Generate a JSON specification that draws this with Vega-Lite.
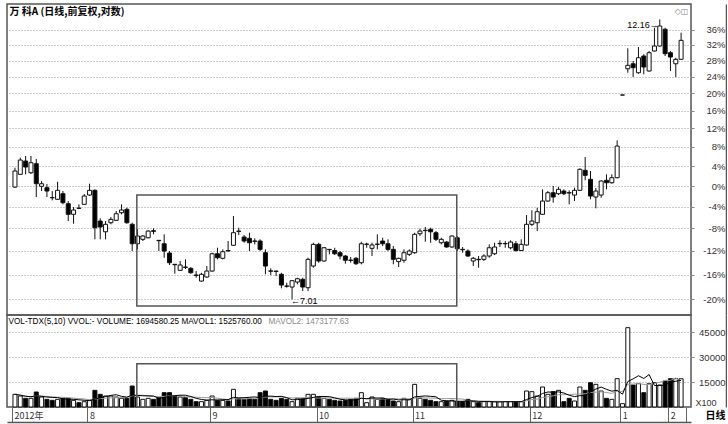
{
  "$schema": "https://vega.github.io/schema/vega-lite/v6.json",
  "padding": {"left": 6, "top": 3, "right": 0, "bottom": 2},
  "background": "#ffffff",
  "spacing": 0,
  "bounds": "flush",
  "config": {
    "view": {"stroke": "#555", "strokeWidth": 1.5},
    "font": "Liberation Sans",
    "axis": {"labelFont": "Liberation Sans", "titleFont": "Liberation Sans", "gridDash": [1, 2], "gridColor": "#999", "gridWidth": 1}
  },
  "datasets": {
    "k": [
      {"i":0,"o":99.8,"h":103.67,"l":99.61,"c":103.0,"v":7600},
      {"i":1,"o":102.33,"h":105.73,"l":102.19,"c":105.25,"v":6600},
      {"i":2,"o":105.04,"h":106.09,"l":102.33,"c":103.81,"v":5200},
      {"i":3,"o":102.65,"h":106.09,"l":102.39,"c":104.7,"v":5200},
      {"i":4,"o":104.49,"h":105.46,"l":97.86,"c":100.45,"v":9000},
      {"i":5,"o":99.94,"h":100.99,"l":99.02,"c":100.45,"v":6000},
      {"i":6,"o":99.67,"h":100.39,"l":97.86,"c":99.02,"v":4600},
      {"i":7,"o":97.75,"h":99.02,"l":97.22,"c":97.72,"v":4000},
      {"i":8,"o":97.42,"h":100.85,"l":97.28,"c":99.16,"v":4600},
      {"i":9,"o":98.5,"h":99.02,"l":96.46,"c":96.77,"v":5200},
      {"i":10,"o":96.58,"h":97.09,"l":93.34,"c":94.58,"v":5200},
      {"i":11,"o":94.58,"h":95.95,"l":92.85,"c":95.39,"v":4000},
      {"i":12,"o":95.74,"h":96.46,"l":95.57,"c":95.71,"v":2600},
      {"i":13,"o":96.46,"h":98.44,"l":96.33,"c":98.05,"v":3200},
      {"i":14,"o":98.24,"h":100.45,"l":98.05,"c":99.16,"v":4000},
      {"i":15,"o":99.16,"h":99.35,"l":90.04,"c":92.12,"v":10000},
      {"i":16,"o":93.34,"h":93.84,"l":90.04,"c":92.25,"v":7600},
      {"i":17,"o":91.39,"h":93.34,"l":90.04,"c":92.74,"v":6600},
      {"i":18,"o":93.03,"h":94.08,"l":92.74,"c":93.65,"v":6600},
      {"i":19,"o":93.47,"h":95.2,"l":93.34,"c":94.69,"v":6000},
      {"i":20,"o":94.88,"h":96.46,"l":94.58,"c":95.39,"v":5200},
      {"i":21,"o":95.52,"h":95.82,"l":92.85,"c":93.03,"v":5200},
      {"i":22,"o":92.74,"h":93.03,"l":87.99,"c":89.26,"v":12600},
      {"i":23,"o":89.26,"h":91.89,"l":88.28,"c":90.63,"v":6000},
      {"i":24,"o":90.04,"h":90.8,"l":89.74,"c":90.63,"v":4600},
      {"i":25,"o":90.32,"h":91.65,"l":90.22,"c":91.52,"v":5200},
      {"i":26,"o":91.58,"h":92.01,"l":90.93,"c":91.47,"v":4600},
      {"i":27,"o":89.86,"h":89.9,"l":87.99,"c":89.8,"v":5600},
      {"i":28,"o":89.26,"h":90.93,"l":86.84,"c":87.99,"v":8600},
      {"i":29,"o":87.64,"h":87.99,"l":85.6,"c":85.99,"v":8600},
      {"i":30,"o":85.72,"h":85.75,"l":84.15,"c":85.65,"v":6600},
      {"i":31,"o":84.71,"h":86.28,"l":84.59,"c":85.6,"v":6000},
      {"i":32,"o":85.26,"h":86.56,"l":84.93,"c":85.2,"v":5600},
      {"i":33,"o":85.04,"h":85.26,"l":84.15,"c":84.31,"v":4600},
      {"i":34,"o":83.93,"h":84.59,"l":83.48,"c":83.87,"v":3200},
      {"i":35,"o":82.94,"h":84.3,"l":82.83,"c":84.05,"v":3200},
      {"i":36,"o":83.6,"h":85.43,"l":83.48,"c":84.59,"v":4000},
      {"i":37,"o":84.59,"h":87.7,"l":84.48,"c":87.52,"v":6600},
      {"i":38,"o":87.52,"h":88.56,"l":86.56,"c":86.84,"v":4000},
      {"i":39,"o":86.74,"h":88.28,"l":86.56,"c":87.87,"v":4000},
      {"i":40,"o":88.08,"h":89.74,"l":87.87,"c":88.0,"v":3600},
      {"i":41,"o":88.99,"h":94.27,"l":88.86,"c":91.22,"v":10600},
      {"i":42,"o":91.52,"h":92.12,"l":90.8,"c":91.45,"v":5200},
      {"i":43,"o":90.45,"h":90.8,"l":89.44,"c":89.74,"v":4600},
      {"i":44,"o":90.22,"h":91.22,"l":87.99,"c":89.44,"v":5200},
      {"i":45,"o":89.74,"h":90.22,"l":89.15,"c":89.7,"v":4600},
      {"i":46,"o":89.74,"h":90.04,"l":87.99,"c":88.28,"v":8600},
      {"i":47,"o":87.7,"h":88.28,"l":84.05,"c":85.43,"v":9600},
      {"i":48,"o":84.62,"h":85.04,"l":83.93,"c":84.56,"v":4600},
      {"i":49,"o":84.59,"h":84.62,"l":83.76,"c":84.53,"v":4000},
      {"i":50,"o":84.05,"h":84.31,"l":81.76,"c":82.29,"v":5200},
      {"i":51,"o":82.13,"h":82.66,"l":81.86,"c":82.1,"v":4600},
      {"i":52,"o":81.97,"h":83.06,"l":80.0,"c":83.0,"v":3200},
      {"i":53,"o":82.78,"h":83.48,"l":82.41,"c":83.32,"v":5200},
      {"i":54,"o":83.22,"h":83.48,"l":81.32,"c":81.97,"v":5200},
      {"i":55,"o":81.86,"h":86.84,"l":81.32,"c":86.56,"v":7600},
      {"i":56,"o":85.43,"h":89.44,"l":85.15,"c":89.15,"v":7600},
      {"i":57,"o":89.15,"h":89.44,"l":85.99,"c":86.28,"v":6000},
      {"i":58,"o":86.28,"h":88.69,"l":86.17,"c":88.56,"v":5200},
      {"i":59,"o":88.28,"h":88.31,"l":87.42,"c":88.22,"v":4600},
      {"i":60,"o":88.08,"h":88.56,"l":87.3,"c":87.52,"v":4000},
      {"i":61,"o":87.7,"h":87.99,"l":86.56,"c":87.13,"v":3600},
      {"i":62,"o":87.13,"h":87.3,"l":85.82,"c":86.41,"v":4000},
      {"i":63,"o":86.44,"h":86.97,"l":85.99,"c":86.38,"v":4600},
      {"i":64,"o":86.74,"h":86.97,"l":85.6,"c":85.82,"v":5200},
      {"i":65,"o":85.99,"h":89.62,"l":85.72,"c":89.26,"v":8600},
      {"i":66,"o":89.15,"h":89.44,"l":88.56,"c":89.2,"v":2600},
      {"i":67,"o":88.46,"h":89.44,"l":87.13,"c":89.04,"v":6000},
      {"i":68,"o":89.15,"h":90.93,"l":88.28,"c":89.2,"v":4600},
      {"i":69,"o":89.74,"h":90.32,"l":88.86,"c":89.26,"v":5200},
      {"i":70,"o":89.26,"h":90.04,"l":87.99,"c":88.28,"v":4600},
      {"i":71,"o":88.28,"h":88.86,"l":85.72,"c":86.56,"v":3600},
      {"i":72,"o":86.17,"h":86.84,"l":85.26,"c":86.74,"v":3200},
      {"i":73,"o":86.41,"h":88.28,"l":85.99,"c":87.7,"v":5200},
      {"i":74,"o":87.42,"h":88.28,"l":87.13,"c":87.99,"v":4600},
      {"i":75,"o":87.7,"h":91.22,"l":87.52,"c":90.93,"v":13600},
      {"i":76,"o":91.04,"h":91.95,"l":90.63,"c":91.52,"v":5200},
      {"i":77,"o":91.65,"h":92.25,"l":89.62,"c":91.6,"v":4600},
      {"i":78,"o":91.83,"h":92.12,"l":89.44,"c":91.39,"v":4000},
      {"i":79,"o":91.22,"h":91.52,"l":89.74,"c":90.04,"v":3200},
      {"i":80,"o":89.44,"h":90.32,"l":89.15,"c":90.04,"v":3200},
      {"i":81,"o":89.56,"h":89.74,"l":88.56,"c":88.69,"v":3600},
      {"i":82,"o":88.69,"h":90.75,"l":88.56,"c":90.63,"v":4000},
      {"i":83,"o":90.32,"h":90.63,"l":87.99,"c":88.39,"v":3200},
      {"i":84,"o":88.28,"h":88.69,"l":87.7,"c":88.22,"v":3200},
      {"i":85,"o":87.99,"h":88.28,"l":86.97,"c":87.13,"v":4600},
      {"i":86,"o":86.28,"h":86.97,"l":85.43,"c":86.74,"v":3200},
      {"i":87,"o":86.56,"h":87.13,"l":85.15,"c":86.5,"v":2600},
      {"i":88,"o":86.56,"h":87.42,"l":86.28,"c":87.13,"v":3200},
      {"i":89,"o":87.13,"h":89.15,"l":86.84,"c":88.56,"v":3200},
      {"i":90,"o":87.52,"h":89.44,"l":87.3,"c":88.69,"v":3200},
      {"i":91,"o":89.26,"h":89.86,"l":88.69,"c":89.32,"v":3200},
      {"i":92,"o":89.26,"h":89.74,"l":88.56,"c":89.3,"v":3200},
      {"i":93,"o":88.56,"h":89.86,"l":88.28,"c":89.56,"v":3200},
      {"i":94,"o":89.26,"h":89.74,"l":87.87,"c":88.08,"v":3200},
      {"i":95,"o":88.08,"h":90.04,"l":87.99,"c":89.15,"v":3200},
      {"i":96,"o":89.04,"h":94.45,"l":88.95,"c":92.74,"v":9600},
      {"i":97,"o":92.74,"h":95.33,"l":92.43,"c":93.34,"v":9200},
      {"i":98,"o":93.03,"h":95.82,"l":91.52,"c":95.07,"v":6600},
      {"i":99,"o":94.58,"h":99.35,"l":94.45,"c":97.09,"v":12000},
      {"i":100,"o":97.09,"h":99.02,"l":96.96,"c":98.69,"v":7600},
      {"i":101,"o":98.69,"h":100.0,"l":96.77,"c":97.86,"v":9200},
      {"i":102,"o":98.5,"h":99.8,"l":98.24,"c":99.35,"v":10000},
      {"i":103,"o":99.02,"h":99.35,"l":98.24,"c":98.5,"v":3200},
      {"i":104,"o":98.69,"h":99.16,"l":96.46,"c":98.65,"v":5200},
      {"i":105,"o":98.24,"h":99.67,"l":97.09,"c":99.16,"v":3600},
      {"i":106,"o":99.16,"h":103.55,"l":99.02,"c":103.34,"v":12000},
      {"i":107,"o":103.14,"h":105.87,"l":101.13,"c":102.13,"v":10000},
      {"i":108,"o":101.33,"h":103.0,"l":97.42,"c":98.05,"v":14600},
      {"i":109,"o":97.86,"h":99.61,"l":95.71,"c":99.02,"v":13600},
      {"i":110,"o":98.24,"h":101.13,"l":97.72,"c":100.99,"v":9600},
      {"i":111,"o":101.13,"h":102.33,"l":99.35,"c":100.65,"v":5200},
      {"i":112,"o":100.65,"h":102.33,"l":100.45,"c":101.65,"v":4600},
      {"i":113,"o":101.65,"h":109.41,"l":101.53,"c":108.19,"v":17000},
      {"i":114,"o":119.62,"h":119.62,"l":119.62,"c":119.62,"v":2000},
      {"i":115,"o":125.97,"h":131.14,"l":124.98,"c":126.82,"v":47600},
      {"i":116,"o":127.21,"h":127.9,"l":123.93,"c":126.22,"v":13200},
      {"i":117,"o":124.98,"h":131.47,"l":124.74,"c":128.73,"v":14000},
      {"i":118,"o":129.16,"h":129.6,"l":124.59,"c":126.4,"v":8600},
      {"i":119,"o":125.41,"h":130.44,"l":125.25,"c":130.0,"v":14000},
      {"i":120,"o":130.44,"h":136.56,"l":130.3,"c":131.73,"v":14600},
      {"i":121,"o":131.73,"h":138.8,"l":131.6,"c":137.02,"v":13200},
      {"i":122,"o":136.14,"h":136.56,"l":129.16,"c":129.75,"v":15600},
      {"i":123,"o":130.0,"h":130.44,"l":125.41,"c":128.91,"v":17000},
      {"i":124,"o":127.21,"h":128.73,"l":123.93,"c":128.33,"v":17000},
      {"i":125,"o":128.33,"h":135.23,"l":128.2,"c":133.21,"v":16946}
    ],
    "box": [{"x1": 22.87, "x2": 82.9, "p1": 98.24, "p2": 78.96, "v1": 0, "v2": 26000}]
  },
  "vconcat": [
    {
      "width": 684,
      "height": 311,
      "layer": [
        {
          "data": {"name": "k"},
          "mark": {"type": "rule", "color": "#111", "strokeWidth": 1},
          "encoding": {
            "x": {"field": "i", "type": "quantitative",
              "scale": {"domain": [-0.555, 125.92], "nice": false, "zero": false},
              "axis": {"orient": "top", "title": "万 科A (日线,前复权,对数)", "labels": false, "ticks": false, "domain": false, "grid": false,
                "titleX": 2, "titleY": 7, "titleAlign": "left", "titleAnchor": "start", "titleBaseline": "middle",
                "titleFont": "Noto Sans CJK SC", "titleFontSize": 10, "titleFontWeight": "bold", "titleColor": "#000"}},
            "y": {"field": "l", "type": "quantitative",
              "scale": {"type": "log", "domain": [77.58, 143.09], "nice": false, "zero": false},
              "axis": {"orient": "right", "values": [80, 84, 88, 92, 96, 100, 104, 108, 112, 116, 120, 124, 128, 132, 136],
                "labelExpr": "round(datum.value - 100) + '%'", "grid": true, "domain": false, "labelOverlap": false,
                "ticks": true, "tickSize": 3, "tickColor": "#888", "labelAlign": "right", "labelBaseline": "middle",
                "labelPadding": 31, "labelFontSize": 9.5, "labelColor": "#333", "title": null}},
            "y2": {"field": "h"}
          }
        },
        {
          "data": {"name": "k"},
          "mark": {"type": "bar", "width": 4, "stroke": "#111", "strokeWidth": 1},
          "encoding": {
            "x": {"field": "i", "type": "quantitative",
              "axis": {"orient": "bottom", "title": "VOL-TDX(5,10) VVOL:-   VOLUME: 1694580.25  MAVOL1: 1525760.00", "labels": false, "ticks": false, "domain": false, "grid": false,
                "titleX": 1, "titleY": 6, "titleAlign": "left", "titleAnchor": "start", "titleBaseline": "middle",
                "titleFontSize": 8.2, "titleFontWeight": "normal", "titleColor": "#000"}},
            "y": {"field": "o", "type": "quantitative",
              "axis": {"orient": "right", "offset": 35, "labels": false, "ticks": false, "grid": false, "domain": true,
                "domainColor": "#555", "domainWidth": 1.5,
                "title": "◇◫", "titleAngle": 0, "titleX": -45, "titleY": 7, "titleAlign": "center", "titleBaseline": "middle",
                "titleFont": "DejaVu Sans", "titleFontSize": 8, "titleFontWeight": "normal", "titleColor": "#888"}},
            "y2": {"field": "c"},
            "fill": {"condition": {"test": "datum.c < datum.o", "value": "#000"}, "value": "#fff"}
          }
        },
        {
          "data": {"name": "box"},
          "mark": {"type": "rect", "fill": "transparent", "stroke": "#555", "strokeWidth": 1.5},
          "encoding": {
            "x": {"field": "x1", "type": "quantitative", "axis": null},
            "x2": {"field": "x2"},
            "y": {"field": "p1", "type": "quantitative", "axis": null},
            "y2": {"field": "p2"}
          }
        },
        {
          "data": {"name": "k"},
          "transform": [{"filter": "datum.i == 52"}],
          "mark": {"type": "text", "text": "←7.01", "align": "left", "baseline": "middle", "dx": -1, "dy": 2, "fontSize": 9, "color": "#000"},
          "encoding": {
            "x": {"field": "i", "type": "quantitative", "axis": null},
            "y": {"field": "l", "type": "quantitative", "axis": null}
          }
        },
        {
          "data": {"name": "k"},
          "transform": [{"filter": "datum.i == 121"}],
          "mark": {"type": "text", "text": "12.16→", "align": "right", "baseline": "middle", "dx": -1, "dy": 6, "fontSize": 9, "color": "#000"},
          "encoding": {
            "x": {"field": "i", "type": "quantitative", "axis": null},
            "y": {"field": "h", "type": "quantitative", "axis": null}
          }
        }
      ],
      "resolve": {"axis": {"x": "independent", "y": "independent"}}
    },
    {
      "width": 684,
      "height": 92,
      "layer": [
        {
          "data": {"name": "k"},
          "mark": {"type": "bar", "width": 4, "stroke": "#111", "strokeWidth": 1},
          "encoding": {
            "x": {"field": "i", "type": "quantitative",
              "scale": {"domain": [-0.555, 125.92], "nice": false, "zero": false},
              "axis": {"orient": "bottom", "values": [-0.555, 13.6, 36.6, 56.6, 74.6, 96.6, 113.6, 122.6, 125.92],
                "labelExpr": "datum.value < 0 ? '2012年' : datum.value < 20 ? '8' : datum.value < 40 ? '9' : datum.value < 60 ? '10' : datum.value < 80 ? '11' : datum.value < 100 ? '12' : datum.value < 120 ? '1' : datum.value < 125 ? '2' : ''",
                "labelAlign": "left", "labelBaseline": "middle", "labelOffset": 2, "labelPadding": -7, "labelFontSize": 9, "labelColor": "#333",
                "labelFont": "Noto Sans CJK SC", "labelOverlap": false, "labelFlush": false, "labelBound": false,
                "tickSize": 15, "tickColor": "#666", "domain": false, "grid": false, "title": null}},
            "y": {"field": "v", "type": "quantitative",
              "scale": {"domain": [0, 55200], "nice": false},
              "axis": {"orient": "right", "values": [15000, 30000, 45000],
                "labelExpr": "'' + datum.value", "labelOverlap": false, "labelFlush": false,
                "grid": true, "domain": false, "tickSize": 3, "tickColor": "#888", "labelAlign": "right", "labelBaseline": "middle",
                "labelPadding": 31, "labelFontSize": 9.5, "labelColor": "#333",
                "title": "X100", "titleAngle": 0, "titleX": 4, "titleY": 87, "titleAlign": "left", "titleBaseline": "middle",
                "titleFontSize": 9, "titleFontWeight": "normal", "titleColor": "#333"}},
            "y2": {"datum": 0},
            "fill": {"condition": {"test": "datum.c < datum.o", "value": "#000"}, "value": "#fff"}
          }
        },
        {
          "data": {"name": "k"},
          "transform": [
            {"window": [{"op": "mean", "field": "v", "as": "ma10"}], "frame": [-9, 0], "sort": [{"field": "i"}]}
          ],
          "mark": {"type": "line", "color": "#999", "strokeWidth": 1},
          "encoding": {
            "x": {"field": "i", "type": "quantitative",
              "axis": {"orient": "top", "title": "MAVOL2: 1473177.63", "labels": false, "ticks": false, "domain": false, "grid": false,
                "titleX": 261, "titleY": 6, "titleAlign": "left", "titleAnchor": "start", "titleBaseline": "middle",
                "titleFontSize": 8.2, "titleFontWeight": "normal", "titleColor": "#888"}},
            "y": {"field": "ma10", "type": "quantitative",
              "axis": {"orient": "right", "offset": 35, "labels": false, "ticks": false, "grid": false, "domain": true,
                "domainColor": "#555", "domainWidth": 1.5, "title": null}}
          }
        },
        {
          "data": {"name": "k"},
          "transform": [
            {"window": [{"op": "mean", "field": "v", "as": "ma5"}], "frame": [-4, 0], "sort": [{"field": "i"}]}
          ],
          "mark": {"type": "line", "color": "#000", "strokeWidth": 1},
          "encoding": {
            "x": {"field": "i", "type": "quantitative",
              "axis": {"orient": "bottom", "offset": 15, "labels": false, "ticks": false, "grid": false, "domain": true,
                "domainColor": "#555", "domainWidth": 1.5,
                "title": "日线", "titleX": 708, "titleY": -7, "titleAlign": "center", "titleAnchor": "start", "titleBaseline": "middle",
                "titleFont": "Noto Sans CJK SC", "titleFontSize": 10, "titleFontWeight": "bold", "titleColor": "#000"}},
            "y": {"field": "ma5", "type": "quantitative", "axis": null}
          }
        },
        {
          "data": {"name": "box"},
          "mark": {"type": "rect", "fill": "transparent", "stroke": "#555", "strokeWidth": 1.5},
          "encoding": {
            "x": {"field": "x1", "type": "quantitative", "axis": null},
            "x2": {"field": "x2"},
            "y": {"field": "v1", "type": "quantitative", "axis": null},
            "y2": {"field": "v2"}
          }
        }
      ],
      "resolve": {"axis": {"x": "independent", "y": "independent"}}
    }
  ]
}
